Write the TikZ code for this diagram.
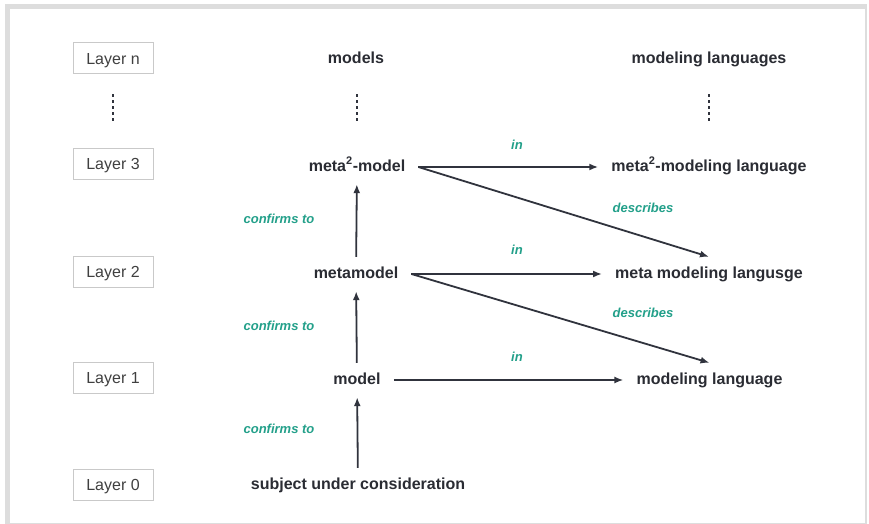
\documentclass[tikz,border=0pt]{standalone}
\usepackage{fontspec}
\setmainfont{Liberation Sans}
\usetikzlibrary{arrows.meta}
\definecolor{inkdark}{HTML}{2A2C33}
\definecolor{arrowink}{HTML}{30333D}
\definecolor{tealtxt}{HTML}{23A08A}
\definecolor{framegray}{HTML}{DDDDDD}
\definecolor{boxgray}{HTML}{C9C9C9}
\definecolor{layertxt}{HTML}{404040}
\tikzset{
  layerbox/.style={draw=boxgray, line width=1pt, minimum width=80pt, minimum height=31pt,
    inner sep=0pt, text height=11.5pt, text depth=0pt, text=layertxt,
    font=\fontsize{16}{18}\selectfont},
  term/.style={font=\bfseries\fontsize{16}{18}\selectfont, text=inkdark,
    text height=12pt, text depth=4pt, inner xsep=13pt, inner ysep=9pt},
  heading/.style={term},
  rel/.style={font=\bfseries\itshape\fontsize{13}{15}\selectfont, text=tealtxt, inner sep=0pt},
  arr/.style={draw=arrowink, line width=1.8pt, -{Latex[length=9pt,width=7pt]}},
  dotline/.style={draw=arrowink, line width=2.8pt, dash pattern=on 2.8pt off 3.2pt}
}
\newcommand{\sqr}{\textsuperscript{\fontsize{11}{12}\selectfont 2}}
\begin{document}
\begin{tikzpicture}[x=1pt,y=-1pt]
  % page with a light frame
  \fill[white] (0,0) rectangle (869,524);
  \fill[framegray] (5,4) rectangle (867,523.5);
  \fill[white] (10,9) rectangle (865,522.5);
  \useasboundingbox (0,0) rectangle (869,524);

  % layer column
  \node[layerbox] (ln) at (113,58.5) {Layer n};
  \node[layerbox] (l3) at (113,164) {Layer 3};
  \node[layerbox] (l2) at (113,271.5) {Layer 2};
  \node[layerbox] (l1) at (113,378) {Layer 1};
  \node[layerbox] (l0) at (113,484.5) {Layer 0};

  % column headings
  \node[heading] (models) at (356,60) {models};
  \node[heading] (langs) at (709,60) {modeling languages};

  % models column
  \node[term] (m3) at (357,167) {meta\sqr-model};
  \node[term] (m2) at (356,274) {metamodel};
  \node[term] (m1) at (357,380) {model};
  \node[term] (m0) at (358,485) {subject under consideration};

  % languages column
  \node[term] (g3) at (709,167) {meta\sqr-modeling language};
  \node[term] (g2) at (709,274) {meta modeling langusge};
  \node[term] (g1) at (709.5,380) {modeling language};

  % elided layers (five dots each)
  \draw[dotline, shorten <=20pt, shorten >=26.5pt] (ln.south) -- (l3.north);
  \draw[dotline, shorten <=17pt, shorten >=28pt] (models.south -| m3) -- (m3.north);
  \draw[dotline, shorten <=17pt, shorten >=28pt] (langs.south) -- (langs.south |- g3.north);

  % conformance
  \draw[arr] (m0) -- (m1);
  \draw[arr] (m1) -- (m2);
  \draw[arr] (m2) -- (m3);

  % "in" relations
  \draw[arr] (m3.east) -- (g3.west);
  \draw[arr] (m2.east) -- (g2.west);
  \draw[arr] (m1.east) -- (g1.west);

  % "describes" relations
  \draw[arr] (m3.east) -- (g2.north);
  \draw[arr] (m2.east) -- (g1.north);

  % relation labels
  \node[rel] (c3) at (279,219) {confirms to};
  \node[rel] (c2) at (279,326) {confirms to};
  \node[rel] (c1) at (279,429) {confirms to};
  \node[rel] (i3) at (517,145) {in};
  \node[rel] (i2) at (517,250) {in};
  \node[rel] (i1) at (517,357) {in};
  \node[rel] (d3) at (643,208) {describes};
  \node[rel] (d2) at (643,313) {describes};
\end{tikzpicture}
\end{document}
